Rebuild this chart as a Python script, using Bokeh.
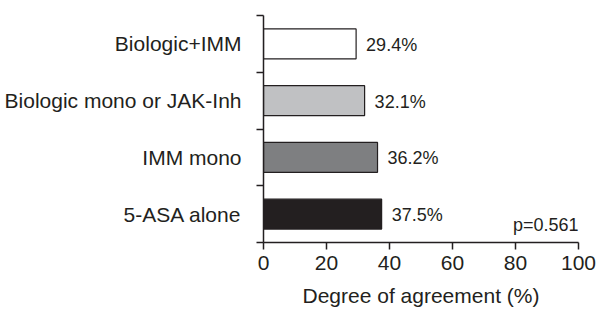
from bokeh.plotting import figure
from bokeh.models import Range1d, FixedTicker, Label, ColumnDataSource
from bokeh.core.properties import value
from bokeh.embed import file_html
from bokeh.resources import INLINE

categories = ["Biologic+IMM", "Biologic mono or JAK-Inh", "IMM mono", "5-ASA alone"]
agreement = [29.4, 32.1, 36.2, 37.5]
bar_colors = ["#ffffff", "#c0c1c3", "#7e7f81", "#231f20"]
x_ticks = [0, 20, 40, 60, 80, 100]
x_title = "Degree of agreement (%)"
p_value_text = "p=0.561"

FONT = "Liberation Sans"
INK = "#231f20"

ypos = [i + 0.5 for i in range(len(categories))]
labels = [f"{v:.1f}%" for v in agreement]
src = ColumnDataSource(dict(y=ypos, v=agreement, c=bar_colors, lab=labels))

p = figure(width=600, height=309, output_backend="svg", toolbar_location=None,
           x_range=Range1d(0, 100), y_range=Range1d(len(categories), 0),
           min_border_left=263, min_border_right=22, min_border_top=15, min_border_bottom=66)
p.outline_line_color = None
p.xgrid.visible = False
p.ygrid.visible = False
p.background_fill_color = "white"

p.hbar(y="y", left=0, right="v", height=0.526, fill_color="c", line_color=INK,
       line_width=1.2, source=src)
p.text(x="v", y="y", text="lab", x_offset=10, y_offset=1, text_baseline="middle",
       text_align="left", text_font=value(FONT), text_font_size="18px",
       text_color=INK, source=src)

p.add_layout(Label(x=100, y=3.69, text=p_value_text, text_align="right",
                   text_baseline="middle", text_font=FONT, text_font_size="18px",
                   text_color=INK))

# x axis
xa = p.xaxis[0]
xa.ticker = FixedTicker(ticks=x_ticks)
xa.axis_label = x_title
xa.axis_label_text_font = FONT
xa.axis_label_text_font_size = "21px"
xa.axis_label_text_font_style = "normal"
xa.axis_label_text_color = INK
xa.axis_label_text_line_height = 1.0
xa.axis_label_standoff = 11
xa.major_label_text_font = FONT
xa.major_label_text_font_size = "21px"
xa.major_label_text_color = INK
xa.major_label_text_line_height = 1.0
xa.major_label_standoff = 6
xa.major_tick_out = 7
xa.major_tick_in = 0
xa.minor_tick_out = 0
xa.minor_tick_in = 0
xa.axis_line_color = INK
xa.axis_line_width = 1.5
xa.major_tick_line_color = INK
xa.major_tick_line_width = 1.5

# y axis: labels at category centres, ticks at boundaries
ya = p.yaxis[0]
ya.ticker = FixedTicker(ticks=ypos, minor_ticks=list(range(len(categories) + 1)))
ya.major_label_overrides = {y: c for y, c in zip(ypos, categories)}
ya.major_label_text_font = FONT
ya.major_label_text_font_size = "21px"
ya.major_label_text_color = INK
ya.major_label_orientation = "horizontal"
ya.major_tick_out = 0
ya.major_tick_in = 0
ya.major_label_standoff = 15
ya.minor_tick_out = 7
ya.minor_tick_in = 0
ya.minor_tick_line_color = INK
ya.minor_tick_line_width = 1.5
ya.axis_line_color = INK
ya.axis_line_width = 1.5

open("out.html", "w").write(file_html(p, INLINE))
